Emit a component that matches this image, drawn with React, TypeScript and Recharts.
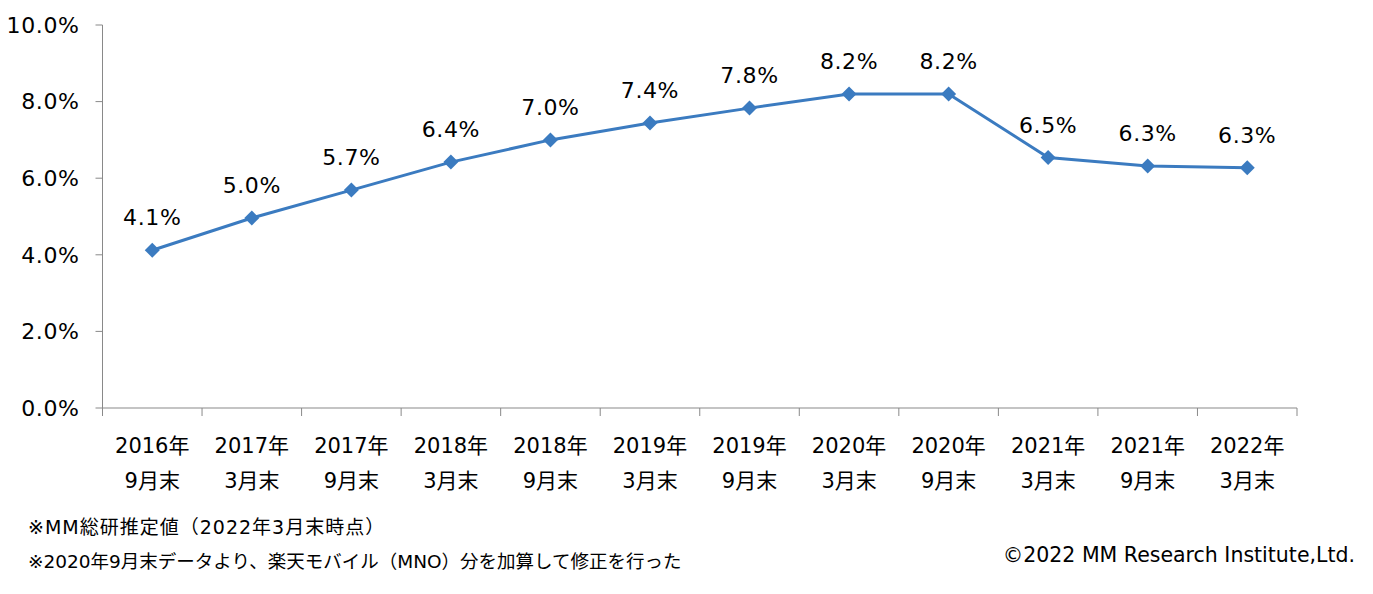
import React from "react"
import { LineChart, Line, XAxis, YAxis, LabelList } from "recharts"

// 期末ごとのシェア推移（MM総研推定値）
const periodYears = [
  "2016年", "2017年", "2017年", "2018年", "2018年", "2019年",
  "2019年", "2020年", "2020年", "2021年", "2021年", "2022年",
]
const periodMonths = [
  "9月末", "3月末", "9月末", "3月末", "9月末", "3月末",
  "9月末", "3月末", "9月末", "3月末", "9月末", "3月末",
]
const shareValues = [4.12, 4.96, 5.69, 6.42, 7.0, 7.44, 7.83, 8.2, 8.2, 6.54, 6.32, 6.27]
const yTicks = [0, 2, 4, 6, 8, 10]

const data = periodYears.map((year, i) => ({
  key: `${year}${periodMonths[i]}`,
  year,
  month: periodMonths[i],
  share: shareValues[i],
}))

const W = 1373
const H = 594
const MARGIN = { top: 25, right: 76, bottom: 96, left: 0 }
const Y_AXIS_W = 102.5
const X_AXIS_H = 90
const PLOT_W = W - MARGIN.left - MARGIN.right - Y_AXIS_W
const BAND = PLOT_W / data.length

const FONT = "'DejaVu Sans', 'Noto Sans CJK JP', sans-serif"
const AXIS_GRAY = "#898989"
const LINE_BLUE = "#3b7bc0"

const CategoryTick = (props: any) => {
  const { x, y, index } = props
  const d = data[index]
  return (
    <g>
      <line x1={x - BAND / 2} x2={x - BAND / 2} y1={y} y2={y + 8} stroke={AXIS_GRAY} />
      {index === data.length - 1 && (
        <line x1={x + BAND / 2} x2={x + BAND / 2} y1={y} y2={y + 8} stroke={AXIS_GRAY} />
      )}
      <text x={x} y={y + 45} textAnchor="middle" fontSize={21} fill="#000" fontFamily={FONT}>
        {d.year}
      </text>
      <text x={x} y={y + 80} textAnchor="middle" fontSize={21} fill="#000" fontFamily={FONT}>
        {d.month}
      </text>
    </g>
  )
}

const Diamond = (props: any) => {
  const { cx, cy } = props
  if (cx == null || cy == null) return null
  const r = 7.5
  return (
    <polygon
      points={`${cx},${cy - r} ${cx + r},${cy} ${cx},${cy + r} ${cx - r},${cy}`}
      fill={LINE_BLUE}
    />
  )
}

const ValueLabel = (props: any) => {
  const { x, y, value } = props
  return (
    <text
      x={x}
      y={y - 25}
      textAnchor="middle"
      fontSize={22}
      letterSpacing={0.6}
      fill="#000"
      fontFamily={FONT}
    >
      {`${Number(value).toFixed(1)}%`}
    </text>
  )
}

export default function App() {
  return (
    <div
      style={{
        position: "absolute",
        left: 0,
        top: 0,
        width: W,
        height: H,
        background: "#fff",
        fontFamily: FONT,
      }}
    >
      <LineChart width={W} height={H} data={data} margin={MARGIN}>
        <XAxis
          dataKey="key"
          height={X_AXIS_H}
          interval={0}
          padding={{ left: BAND / 2, right: BAND / 2 }}
          stroke={AXIS_GRAY}
          tickLine={false}
          tickSize={0}
          tickMargin={0}
          tick={<CategoryTick />}
        />
        <YAxis
          width={Y_AXIS_W}
          domain={[0, 10]}
          ticks={yTicks}
          interval={0}
          stroke={AXIS_GRAY}
          tickSize={7}
          tickMargin={16}
          tick={{ fontSize: 22, fill: "#000", fontFamily: FONT, letterSpacing: 0.6 }}
          tickFormatter={(v: number) => `${v.toFixed(1)}%`}
        />
        <Line
          type="linear"
          dataKey="share"
          stroke={LINE_BLUE}
          strokeWidth={3}
          dot={<Diamond />}
          activeDot={false}
          isAnimationActive={false}
        >
          <LabelList dataKey="share" content={<ValueLabel />} />
        </Line>
      </LineChart>
      <div style={{ position: "absolute", left: 28, top: 514, fontSize: 19, letterSpacing: 1, lineHeight: "26px", color: "#000", whiteSpace: "nowrap" }}>
        ※MM総研推定値（2022年3月末時点）
      </div>
      <div style={{ position: "absolute", left: 28, top: 549, fontSize: 18.5, lineHeight: "26px", color: "#000", whiteSpace: "nowrap" }}>
        ※2020年9月末データより、楽天モバイル（MNO）分を加算して修正を行った
      </div>
      <div style={{ position: "absolute", right: 18, top: 541, fontSize: 20.5, lineHeight: "28px", color: "#000", whiteSpace: "nowrap" }}>
        ©2022 MM Research Institute,Ltd.
      </div>
    </div>
  )
}
